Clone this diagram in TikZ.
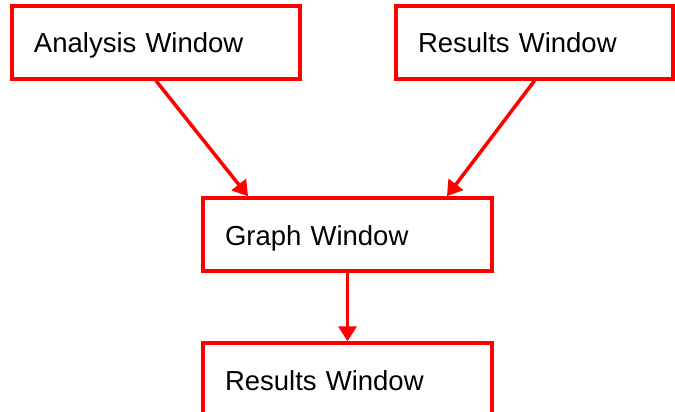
\documentclass[tikz,border=0pt]{standalone}
\usepackage{fontspec}
\setmainfont{Liberation Sans}
\usetikzlibrary{arrows.meta}
\usetikzlibrary{calc}

\begin{document}
\begin{tikzpicture}[x=1pt, y=1pt,
    winbox/.style={draw=red, line width=3.5pt, fill=white,
                   text width=#1, align=left, inner xsep=22pt,
                   minimum height=73pt, text height=27pt, text depth=6pt,
                   font=\fontsize{27.5}{32}\selectfont},
    winbox/.default=244pt,
    flow/.style={draw=red, line width=3.5pt,
                 -{Triangle[length=15pt,width=18pt]}}]

\useasboundingbox (0,0) rectangle (675,-412);

\node (analysis) [winbox=244pt] at (156,-42.5) {Analysis Window};
\node (results) [winbox=233pt] at (534.5,-42.5) {Results Window};
\node (graph) [winbox=245pt] at (347.5,-234.5) {Graph Window};
\node (output) [winbox=245pt] at (347.5,-379.5) {Results Window};
%
\draw [flow] (analysis.south) -- ($(graph.north west)!0.16!(graph.north east)$);
\draw [flow] (results.south) -- ($(graph.north west)!0.84!(graph.north east)$);
\draw [flow] (graph.south) -- (output.north);
\end{tikzpicture}
\end{document}
